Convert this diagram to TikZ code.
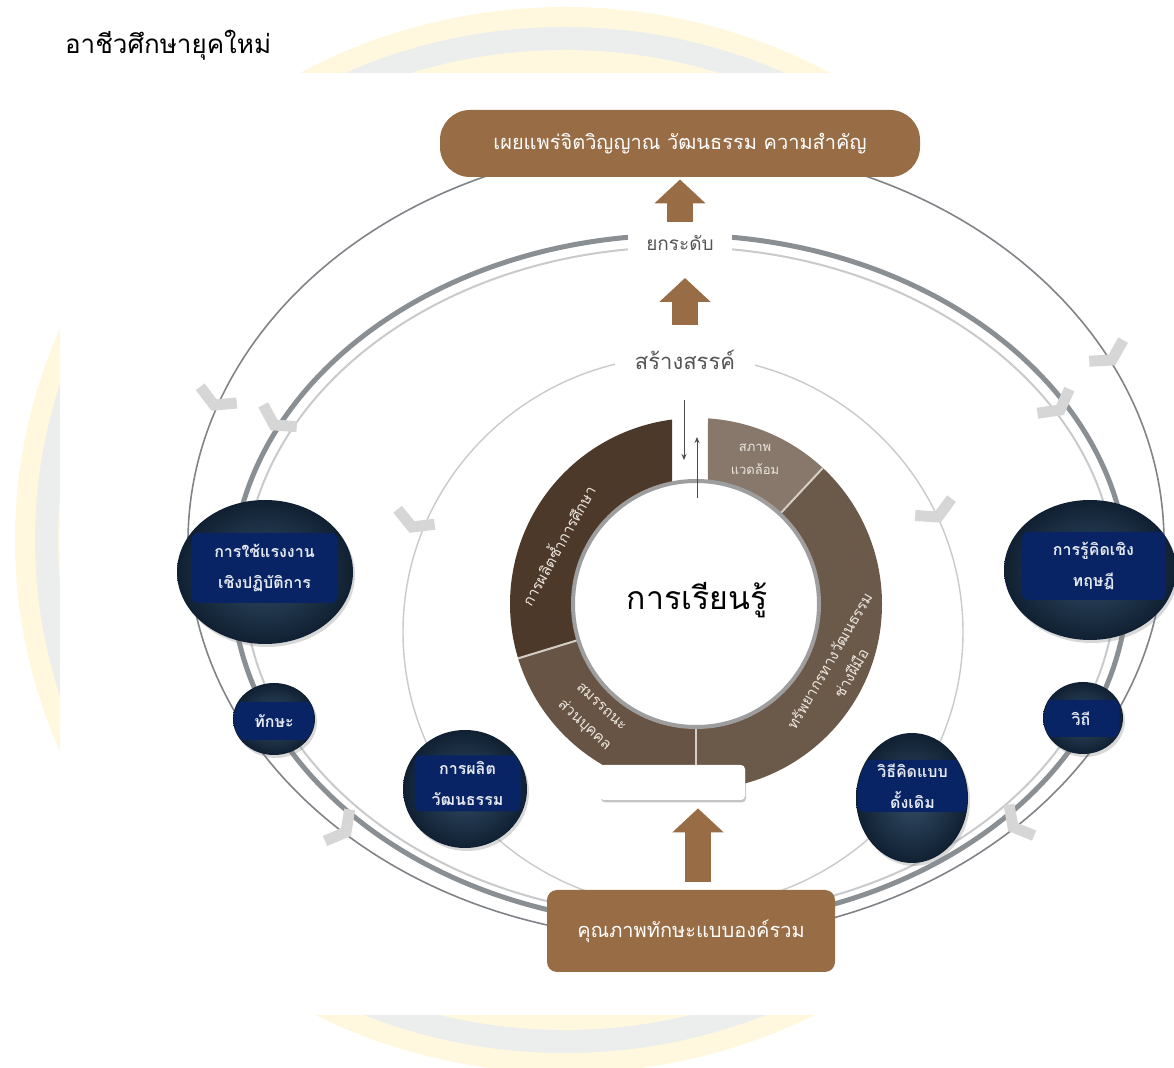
\documentclass[tikz,border=0pt]{standalone}
\usepackage{fontspec}
\setmainfont{Loma}[Script=Thai]
\usetikzlibrary{positioning,shapes.geometric,arrows.meta,shadows}

\definecolor{boxbrown}{RGB}{152,108,68}
\definecolor{segdark}{RGB}{77,57,42}
\definecolor{segmid}{RGB}{104,84,68}
\definecolor{segright}{RGB}{107,89,73}
\definecolor{seglight}{RGB}{135,120,107}
\definecolor{segtext}{RGB}{236,230,222}
\definecolor{segline}{RGB}{214,205,196}
\definecolor{bubblein}{RGB}{52,78,104}
\definecolor{bubbleout}{RGB}{16,32,50}
\definecolor{tagblue}{RGB}{8,36,100}
\definecolor{tagtext}{RGB}{228,232,240}
\definecolor{ringdark}{RGB}{138,143,148}
\definecolor{ringmid}{RGB}{128,132,136}
\definecolor{ringlight}{RGB}{200,202,204}
\definecolor{rimgray}{RGB}{158,158,158}
\definecolor{chevgray}{RGB}{214,214,214}
\definecolor{wmyellow}{RGB}{255,248,222}
\definecolor{wmgray}{RGB}{236,238,238}
\definecolor{labelgray}{RGB}{85,85,85}

\begin{document}
\begin{tikzpicture}[x=0.5pt, y=-0.5pt,
  brown box/.style={rectangle, fill=boxbrown, text=white, inner sep=0pt, font=\fontsize{10}{12}\selectfont},
  bubble/.style={ellipse, inner sep=0pt, shading=radial, inner color=bubblein, outer color=bubbleout,
    drop shadow={opacity=0.3, shadow xshift=1pt, shadow yshift=-1.5pt}},
  tag/.style={rectangle, rounded corners=3pt, inner sep=0pt, fill=tagblue, text=tagtext, align=center,
    font=\bfseries\fontsize{8}{15.5}\selectfont},
  seg text/.style={text=segtext, align=center, inner sep=0pt, font=\fontsize{7.5}{12.5}\selectfont},
  ring label/.style={fill=white, text=labelgray, inner ysep=2pt},
  block arrow/.style={draw=boxbrown, line width=13pt, -{Triangle[width=25pt, length=12pt]}},
  thin arrow/.style={draw=black!70, line width=0.5pt, -{Stealth[length=3pt, width=2.5pt]}},
  chevron/.style={draw=chevgray, line width=5.5pt},
  chev/.pic={\draw[chevron] (-11,20) -- (0,0) -- (-11,-20);},
]
  \useasboundingbox (0,0) rectangle (1174,1068);

  % watermark behind the page
  \fill[wmyellow] (565,540) ellipse [x radius=550, y radius=533];
  \fill[wmgray] (565,540) ellipse [x radius=530, y radius=513];
  \fill[wmyellow] (565,540) ellipse [x radius=507, y radius=490];
  \fill[white] (565,540) ellipse [x radius=475, y radius=458];
  \fill[white] (60,73) rectangle (1174,1015);

  \node[anchor=west, font=\fontsize{13}{15}\selectfont] (title) at (58,45) {อาชีวศึกษายุคใหม่};

  % rings
  \draw[ringmid, line width=0.8pt] (676,542) ellipse [x radius=488, y radius=397];
  \draw[ringdark, line width=2.5pt] (680,580) ellipse [x radius=448, y radius=345];
  \draw[ringlight, line width=1pt] (680,582) ellipse [x radius=436, y radius=335];
  \draw[ringlight, line width=0.7pt] (683,632) ellipse [x radius=280, y radius=276];

  \pic[rotate=-114] at (214,405) {chev};
  \pic[rotate=-123] at (274,425) {chev};
  \pic[rotate=-112] at (412,527) {chev};
  \pic[rotate=-38] at (346,832) {chev};
  \pic[rotate=-58] at (1112,360) {chev};
  \pic[rotate=-53] at (1060,410) {chev};
  \pic[rotate=-65] at (938,517) {chev};
  \pic[rotate=-141] at (1013,827) {chev};

  % donut
  \begin{scope}[shift={(696,604)}]
    \fill[segdark] (-97.4:186) arc[start angle=-97.4, end angle=-197, radius=186]
      -- (-197:122) arc[start angle=-197, end angle=-101.3, radius=122] -- cycle;
    \fill[segmid] (-197:186) arc[start angle=-197, end angle=-270, radius=186]
      -- (-270:122) arc[start angle=-270, end angle=-197, radius=122] -- cycle;
    \fill[segright] (-270:186) arc[start angle=-270, end angle=-407, radius=186]
      -- (-407:122) arc[start angle=-407, end angle=-270, radius=122] -- cycle;
    \fill[seglight] (-407:186) arc[start angle=-407, end angle=-446.3, radius=186]
      -- (-444.4:122) arc[start angle=-444.4, end angle=-407, radius=122] -- cycle;
    \draw[segline, line width=1pt] (-197:122) -- (-197:186);
    \draw[segline, line width=1pt] (-270:122) -- (-270:186);
    \draw[segline, line width=1pt] (-47:122) -- (-47:186);
    \draw[rimgray, line width=2pt] (0,0) circle [radius=123];
  \end{scope}

  \node[seg text, rotate=61] (reproduce) at (557,545) {การผลิตซ้ำการศึกษา};
  \node[seg text, font=\fontsize{6.5}{11.5}\selectfont] (setting) at (755,459) {สภาพ\\แวดล้อม};
  \node[seg text, rotate=60] (heritage) at (840,667) {ทรัพยากรทางวัฒนธรรม\\ช่างฝีมือ};
  \node[seg text, rotate=-43] (competence) at (592,717) {สมรรถนะ\\ส่วนบุคคล};
  \node[font=\fontsize{16}{18}\selectfont] (learning) at (697,600) {การเรียนรู้};

  \coordinate (downtail) at (684,400);
  \coordinate (downtip) at (684,460);
  \coordinate (uptail) at (697,498);
  \coordinate (uptip) at (697,437);
  \draw[thin arrow] (downtail) -- (downtip);
  \draw[thin arrow] (uptail) -- (uptip);

  % boxes and labels
  \node[brown box, minimum width=240pt, minimum height=33.5pt, rounded corners=15pt] (spread) at (680,143.5)
    {เผยแพร่จิตวิญญาณ วัฒนธรรม ความสำคัญ};
  \node[ring label, font=\fontsize{9.5}{11}\selectfont, inner xsep=9pt] (lift) at (680,243) {ยกระดับ};
  \node[ring label, font=\fontsize{11}{13}\selectfont, inner xsep=10pt] (create) at (685,360) {สร้างสรรค์};
  \node[brown box, minimum width=144pt, minimum height=41pt, rounded corners=5pt] (quality) at (691,931)
    {คุณภาพทักษะแบบองค์รวม};
  \node[fill=white, rounded corners=2pt, minimum width=72.5pt, minimum height=17.5pt,
    drop shadow={opacity=0.45, shadow xshift=0.5pt, shadow yshift=-1.2pt}] (blank) at (672.5,782.5) {};

  \draw[block arrow, shorten <=10.5pt, shorten >=18pt] (lift.center) -- (spread.center);
  \draw[block arrow, shorten <=17.5pt, shorten >=17.5pt] (create.center) -- (create.center |- lift.center);
  \draw[block arrow, shorten <=4pt, shorten >=4pt] ([xshift=3.5pt]quality.north) -- ([xshift=3.5pt]quality.north |- blank.south);

  % bubbles
  \node[bubble, minimum width=88pt, minimum height=72pt] (labour) at (265,572) {};
  \node[tag, minimum width=72.5pt, minimum height=35pt] (labourtag) at (264.5,568) {การใช้แรงงาน\\เชิงปฏิบัติการ};

  \node[bubble, minimum width=41pt, minimum height=36pt] (skill) at (274,719) {};
  \begin{scope}
    \clip (skill.center) ellipse [x radius=40, y radius=35];
    \node[tag, minimum width=41pt, minimum height=19pt] (skilltag) at (274,721) {ทักษะ};
  \end{scope}

  \node[bubble, minimum width=62pt, minimum height=59pt] (culture) at (465,789) {};
  \begin{scope}
    \clip (culture.center) ellipse [x radius=61, y radius=58];
    \node[tag, minimum width=53pt, minimum height=28pt] (culturetag) at (467.5,783.5) {การผลิต\\วัฒนธรรม};
  \end{scope}

  \node[bubble, minimum width=56pt, minimum height=65pt] (tradition) at (912,798) {};
  \begin{scope}
    \clip (tradition.center) ellipse [x radius=55, y radius=64];
    \node[tag, minimum width=54.5pt, minimum height=26pt] (traditiontag) at (912.5,786) {วิธีคิดแบบ\\ดั้งเดิม};
  \end{scope}

  \node[bubble, minimum width=40pt, minimum height=36pt] (way) at (1083,718) {};
  \begin{scope}
    \clip (way.center) ellipse [x radius=39, y radius=35];
    \node[tag, minimum width=38pt, minimum height=18.5pt] (waytag) at (1081,718.5) {วิถี};
  \end{scope}

  \node[bubble, minimum width=86pt, minimum height=70pt] (theory) at (1090,570) {};
  \node[tag, minimum width=71.5pt, minimum height=34pt] (theorytag) at (1093.5,566) {การรู้คิดเชิง\\ทฤษฎี};
\end{tikzpicture}
\end{document}
